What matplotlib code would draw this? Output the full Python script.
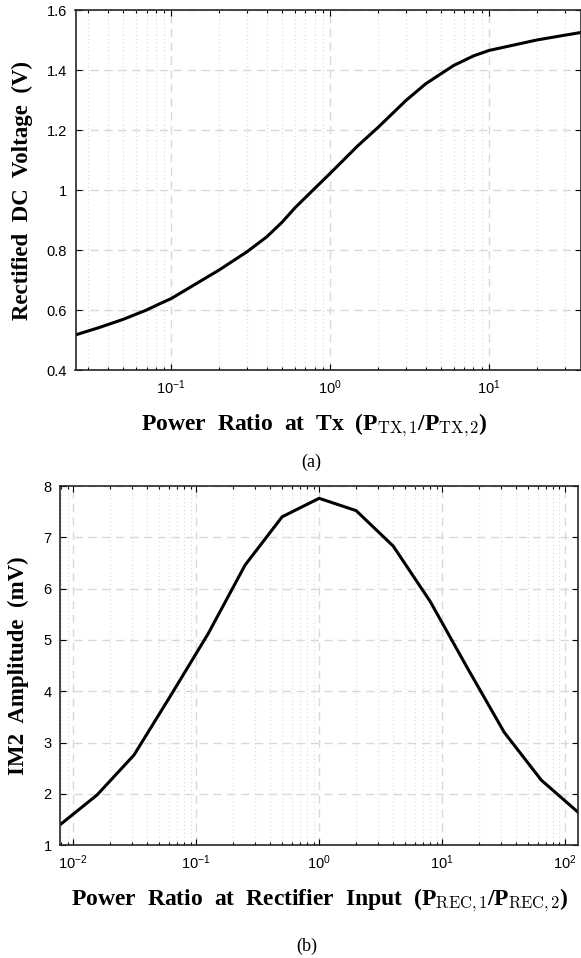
import numpy as np
import matplotlib
matplotlib.use("Agg")
import matplotlib.pyplot as plt
from matplotlib.ticker import LogLocator, NullFormatter, FixedLocator

plt.rcParams['font.family'] = ['Liberation Sans', 'DejaVu Sans']
plt.rcParams['axes.unicode_minus'] = False
plt.rcParams['mathtext.fontset'] = 'custom'
plt.rcParams['mathtext.rm'] = 'cmr10'
plt.rcParams['mathtext.bf'] = 'Liberation Serif:bold'
plt.rcParams['mathtext.it'] = 'Liberation Serif:italic'

# (a) rectified DC voltage vs transmit power ratio
tx_ratio = [0.025, 0.035, 0.05, 0.07, 0.0857, 0.1, 0.2, 0.3, 0.4, 0.5, 0.6, 0.8,
            1.0, 1.5, 2.0, 3.0, 4.0, 6.0, 8.0, 10.0, 20.0, 30.0, 40.0]
dc_voltage = [0.517, 0.541, 0.569, 0.600, 0.622, 0.638, 0.733, 0.794, 0.844, 0.893,
              0.940, 1.005, 1.055, 1.148, 1.208, 1.298, 1.354, 1.415, 1.447, 1.465,
              1.500, 1.516, 1.527]

# (b) IM2 amplitude vs power ratio at rectifier input
rec_ratio = [1/128, 1/64, 1/32, 1/16, 1/8, 1/4, 1/2, 1, 2, 4, 8, 16, 32, 64, 128]
im2_mv = [1.40, 1.98, 2.76, 3.93, 5.12, 6.46, 7.40, 7.76, 7.52, 6.83, 5.75, 4.46,
          3.20, 2.27, 1.64]

W, H = 581, 958
fig = plt.figure(figsize=(W / 100, H / 100), dpi=100)

grid_col = '#d9d9d9'
xlab_font = dict(fontfamily='Liberation Serif', fontweight='bold', fontsize=17)
ylab_font = dict(fontfamily='Liberation Serif', fontweight='bold', fontsize=16.5)


def style_axes(ax):
    ax.set_xscale('log')
    ax.xaxis.set_major_locator(LogLocator(base=10))
    ax.xaxis.set_minor_locator(LogLocator(base=10, subs=np.arange(2, 10)))
    ax.xaxis.set_minor_formatter(NullFormatter())
    ax.grid(True, which='major', axis='both', color=grid_col, linestyle=(0, (6, 4)), linewidth=1.0)
    ax.grid(True, which='minor', axis='x', color=grid_col, linestyle=(0, (1, 2.5)), linewidth=0.8)
    ax.set_axisbelow(True)
    ax.tick_params(which='both', direction='in', top=True, right=True, labelsize=10.5,
                   color='black', width=0.8)
    ax.tick_params(which='major', length=4, pad=6)
    ax.tick_params(which='minor', length=2.2)
    for s in ax.spines.values():
        s.set_linewidth(1.2)
        s.set_color('#262626')


def px_axes(left, right, top, bottom):
    return fig.add_axes([left / W, 1 - bottom / H, (right - left) / W, (bottom - top) / H])


# top panel
ax1 = px_axes(75.5, 581, 10, 370)
style_axes(ax1)
ax1.plot(tx_ratio, dc_voltage, color='black', linewidth=2.2)
ax1.set_xlim(0.025, 38)
ax1.set_ylim(0.4, 1.6)
ax1.yaxis.set_major_locator(FixedLocator([0.4, 0.6, 0.8, 1.0, 1.2, 1.4, 1.6]))
ax1.set_yticklabels(['0.4', '0.6', '0.8', '1', '1.2', '1.4', '1.6'])
ax1.set_xlabel(r'Power  Ratio  at  Tx  ($\mathbf{P}_{\mathrm{TX,1}}$/$\mathbf{P}_{\mathrm{TX,2}}$)',
               **xlab_font)
ax1.xaxis.set_label_coords((314 - 75.5) / 505.5, -0.115)
ax1.set_ylabel('Rectified  DC  Voltage  (V)', **ylab_font)
ax1.yaxis.set_label_coords(-0.084, 0.5)

# bottom panel
ax2 = px_axes(60, 578.3, 486, 845.3)
style_axes(ax2)
ax2.plot(rec_ratio, im2_mv, color='black', linewidth=2.2)
ax2.set_xlim(1/128, 128)
ax2.set_ylim(1, 8)
ax2.yaxis.set_major_locator(FixedLocator(range(1, 9)))
ax2.set_xlabel(r'Power  Ratio  at  Rectifier  Input  ($\mathbf{P}_{\mathrm{REC,1}}$/$\mathbf{P}_{\mathrm{REC,2}}$)',
               **xlab_font)
ax2.xaxis.set_label_coords(0.5, -0.115)
ax2.set_ylabel('IM2  Amplitude  (mV)', **ylab_font)
ax2.yaxis.set_label_coords(-0.06, 0.5)

fig.text(311.7 / W, 1 - 462 / H, '(a)', ha='center', va='center',
         fontfamily='Liberation Serif', fontsize=13)
fig.text(306.7 / W, 1 - 946 / H, '(b)', ha='center', va='center',
         fontfamily='Liberation Serif', fontsize=13)

fig.savefig('out.png', dpi=100)
